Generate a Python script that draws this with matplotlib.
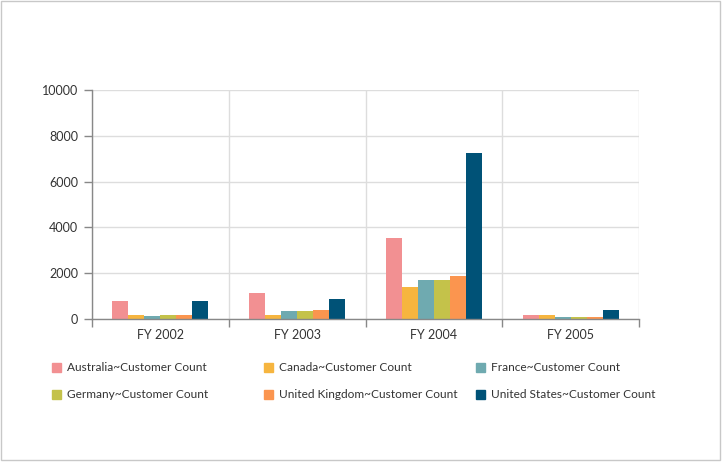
import matplotlib.pyplot as plt
from matplotlib.patches import Rectangle

plt.rcParams['font.family'] = ['Lato', 'DejaVu Sans']

years = ['FY 2002', 'FY 2003', 'FY 2004', 'FY 2005']
countries = ['Australia', 'Canada', 'France', 'Germany', 'United Kingdom', 'United States']
australia = [790, 1120, 3550, 175]
canada = [175, 175, 1410, 175]
france = [130, 360, 1700, 75]
germany = [175, 335, 1700, 70]
uk = [175, 405, 1890, 85]
us = [790, 875, 7250, 380]
series = [australia, canada, france, germany, uk, us]
colors = ['#F29092', '#F6B53F', '#6FAAB0', '#C4C24A', '#FB954F', '#005277']

W, H = 722, 462
fig = plt.figure(figsize=(W / 100, H / 100), dpi=100)
# outer frame
fig.patches.append(Rectangle((0.5 / W, (H - 459.5) / H), 719 / W, 459 / H,
                             transform=fig.transFigure, fill=False,
                             edgecolor='#c8c8c8', linewidth=1))

ax = fig.add_axes([92 / W, (H - 319) / H, 547 / W, 229 / H])

bw = 0.117
x = range(len(years))
for i, vals in enumerate(series):
    ax.bar([k + (i - 2.5) * bw for k in x], vals, width=bw, color=colors[i],
           align='center', zorder=3)

ax.set_xlim(-0.5, 3.5)
ax.set_ylim(0, 10000)
ax.set_yticks(range(0, 10001, 2000))
ax.set_xticks([-0.5, 0.5, 1.5, 2.5, 3.5])
ax.set_xticklabels([])
ax.set_xticks(list(x), minor=True)
ax.set_xticklabels(years, minor=True)
ax.tick_params(axis='x', which='major', length=6, color='#888888', width=1)
ax.tick_params(axis='x', which='minor', length=0, pad=7, labelsize=9, labelcolor='#333333')
ax.tick_params(axis='y', length=6, color='#888888', width=1, labelsize=9,
               labelcolor='#333333', pad=4)

ax.grid(True, which='major', color='#dddddd', linewidth=1, zorder=0)
for s in ['top', 'right']:
    ax.spines[s].set_visible(False)
for s in ['left', 'bottom']:
    ax.spines[s].set_color('#888888')
    ax.spines[s].set_linewidth(1)
    ax.spines[s].set_zorder(4)

# legend laid out in a fixed 3-column grid
col_x = [52, 264, 476]
row_y = [367.5, 394.5]
for i, name in enumerate(countries):
    cx = col_x[i % 3]
    cy = row_y[i // 3]
    fig.patches.append(Rectangle((cx / W, (H - cy - 4.5) / H), 9 / W, 9 / H,
                                 transform=fig.transFigure, color=colors[i]))
    fig.text((cx + 15) / W, (H - cy) / H, name + '~Customer Count',
             va='center', ha='left', fontsize=8.6, color='#333333')

fig.savefig('out.png', dpi=100)
